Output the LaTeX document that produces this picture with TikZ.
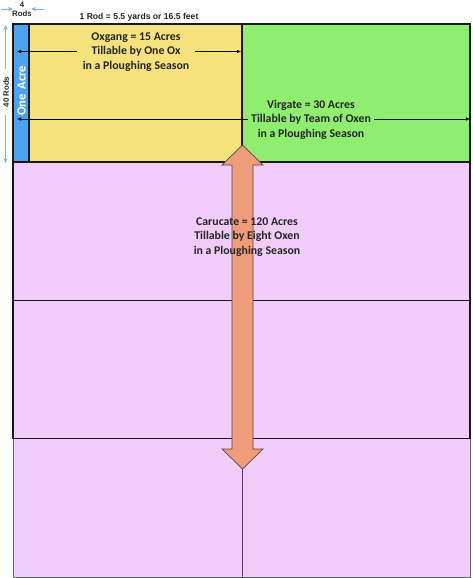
\documentclass[tikz,border=0pt]{standalone}
\usepackage{fontspec}
\setmainfont{Carlito}
\newfontfamily\arialf{Liberation Sans}
\usetikzlibrary{arrows.meta}
\definecolor{yelc}{HTML}{F5E27C}
\definecolor{grnc}{HTML}{8FEE6F}
\definecolor{pnkc}{HTML}{F0CDF8}
\definecolor{bluc}{HTML}{4DA3F0}
\definecolor{orgc}{HTML}{F09B7A}
\definecolor{lblc}{HTML}{6EB4F0}
\definecolor{purc}{HTML}{5A3A78}
\tikzset{
  bigtxt/.style={font=\fontsize{11.8}{14.6}\selectfont\bfseries, align=center, text=black!85},
  smalltxt/.style={font=\arialf\fontsize{8.6}{9}\selectfont\bfseries, text=black!85},
  border/.style={draw=black!90, line width=1.4pt},
  dimarrow/.style={draw=black, line width=0.6pt, -{Latex[length=4pt,width=3.5pt]}},
  rodarrow/.style={draw=lblc, line width=0.7pt, -{Stealth[length=5pt,width=4pt]}}
}
\begin{document}
\begin{tikzpicture}[x=1pt,y=-1pt]
\useasboundingbox (0,0) rectangle (473,578);
% pink area
\fill[pnkc] (13,162) rectangle (470,577);
\draw[draw=black!60, line width=0.8pt] (13,438) rectangle (470,577);
\draw[draw=purc, line width=0.9pt] (242.5,438) -- (242.5,577);
\draw[border] (13,162) rectangle (470,438.5);
\draw[border, line width=1.7pt] (13,300.5) -- (470,300.5);
% top fields
\fill[yelc] (13,24) rectangle (242,162);
\fill[grnc] (242,24) rectangle (470,162);
\fill[bluc] (13,24) rectangle (29,162);
\draw[border] (13,24) rectangle (470,162);
\draw[border] (29,24) -- (29,162);
\draw[border] (242,24) -- (242,162);
% horizontal arrows
\coordinate (ol) at (17,51.5);
\coordinate (or) at (241,51.5);
\coordinate (vl) at (17,119);
\coordinate (vr) at (470,119);
\draw[dimarrow] (136,51.5) -- (ol);
\draw[dimarrow] (136,51.5) -- (or);
\draw[dimarrow] (240,119) -- (vl);
\draw[dimarrow] (240,119) -- (vr);
\node[bigtxt, fill=yelc, inner xsep=6pt, inner ysep=1pt] (oxgang) at (136,52)
  {Oxgang = 15 Acres\\Tillable by One Ox\\in a Ploughing Season};
\node[bigtxt, fill=grnc, inner xsep=3pt, inner ysep=1pt] (virgate) at (311,119.5)
  {Virgate = 30 Acres\\Tillable by Team of Oxen\\in a Ploughing Season};
% big double arrow
\filldraw[fill=orgc, draw=black!70, line width=0.7pt]
  (242.5,145) -- (263,165) -- (253,165) -- (253,449) -- (263,449) -- (242.5,469)
  -- (222,449) -- (232,449) -- (232,165) -- (222,165) -- cycle;
\node[bigtxt] (carucate) at (247,237)
  {Carucate = 120 Acres\\Tillable by Eight Oxen\\in a Ploughing Season};
% one acre
\node[rotate=90, text=white, font=\fontsize{12.5}{14}\selectfont\bfseries] (acre) at (21.5,91) {One\hspace{0.4em}Acre};
% rod labels
\node[smalltxt] (rod) at (139,17) {1 Rod = 5.5 yards or 16.5 feet};
\node[smalltxt, align=center, font=\arialf\fontsize{7.8}{8.5}\selectfont\bfseries] (fourrods) at (22,9.5) {4\\Rods};
\coordinate (fl) at (13,9);
\coordinate (fr) at (31,9);
\draw[rodarrow] (1,9) -- (fl);
\draw[rodarrow] (44,9) -- (fr);
\coordinate (tt) at (5.5,25);
\coordinate (tb) at (5.5,163);
\draw[rodarrow] (5.5,92) -- (tt);
\draw[rodarrow] (5.5,92) -- (tb);
\node[smalltxt, rotate=90, fill=white, inner xsep=8pt, inner ysep=0.5pt, font=\arialf\fontsize{7.8}{8.5}\selectfont\bfseries] (fortyrods) at (6,92) {40 Rods};
\end{tikzpicture}
\end{document}
